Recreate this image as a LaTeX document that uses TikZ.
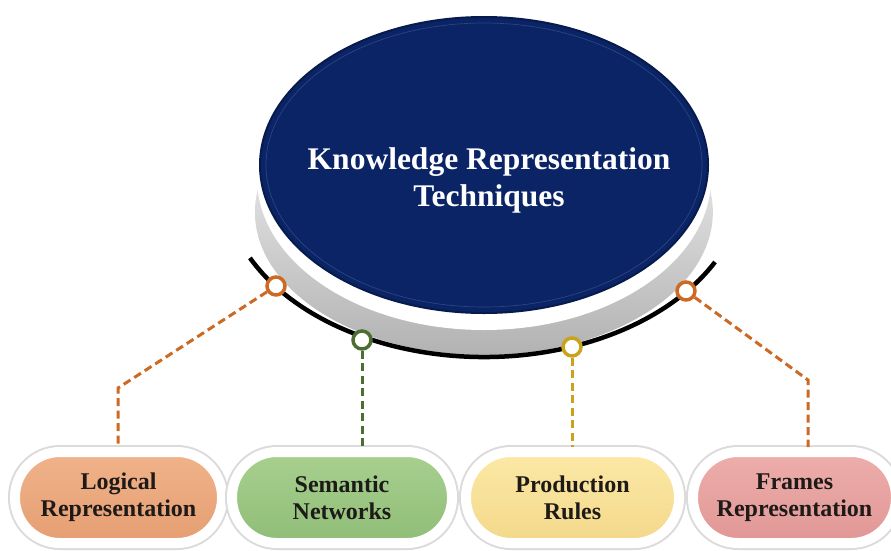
\documentclass[tikz,border=0pt]{standalone}
\usepackage{fontspec}
\setmainfont{Liberation Serif}
\usepackage{xcolor}
\usetikzlibrary{positioning,fadings}

\definecolor{discblue}{HTML}{0B2466}
\definecolor{discedge}{HTML}{071A4C}
\definecolor{discring}{HTML}{2C447F}
\definecolor{lineorange}{HTML}{CC6A24}
\definecolor{linegreen}{HTML}{4D6E33}
\definecolor{lineyellow}{HTML}{C9A21E}
\definecolor{boxtext}{HTML}{1E1A18}
\definecolor{logictop}{HTML}{F1B38A}
\definecolor{logicbot}{HTML}{E59E72}
\definecolor{semtop}{HTML}{A8D08F}
\definecolor{sembot}{HTML}{8FBD77}
\definecolor{prodtop}{HTML}{FCE9A6}
\definecolor{prodbot}{HTML}{F3D88A}
\definecolor{frametop}{HTML}{EDAEAB}
\definecolor{framebot}{HTML}{E09795}

\begin{document}
\begin{tikzpicture}[x=1pt,y=1pt]
	\tikzstyle{pill}
	  =[rounded corners=45pt, minimum height=91pt, draw=white, line width=10pt,
	  preaction={draw=black!14, line width=14pt}, align=center,
	  font=\fontsize{24}{27}\selectfont\bfseries, text=boxtext]
	\tikzstyle{ringdot}
	  =[circle, fill=white, line width=3.5pt, minimum size=18pt, inner sep=0pt]
	\tikzstyle{link}
	  =[line width=3pt, dash pattern=on 8pt off 4.5pt]

	\useasboundingbox (0,0) rectangle (891,-550);

	% disc with its shadow and rim
	\fill[black!30, path fading=north] (484,-212) ellipse [x radius=229pt, y radius=143pt];
	\fill[white] (484,-178) ellipse [x radius=227pt, y radius=152pt];
	\filldraw[fill=discblue, draw=discedge, line width=2pt]
	  (484,-165) ellipse [x radius=224pt, y radius=148pt];
	\draw[discring, line width=0.7pt] (484,-165) ellipse [x radius=218pt, y radius=142pt];
	\node[font=\fontsize{31.5}{37}\selectfont\bfseries, text=white, align=center] (title)
	  at (489,-180) {Knowledge Representation\\Techniques};

	% black arc below the disc
	\draw[line width=4.5pt] (484,-181.5) ++(205.8:260pt and 175.5pt)
	  arc[start angle=205.8, end angle=332.7, x radius=260pt, y radius=175.5pt];

	% technique boxes
	\node[pill, minimum width=207pt, top color=logictop, bottom color=logicbot] (logic)
	  at (118.5,-497.5) {Logical\\Representation};
	\node[pill, minimum width=220pt, top color=semtop, bottom color=sembot] (sem)
	  [right=0pt of logic] {Semantic\\Networks};
	\node[pill, minimum width=213pt, top color=prodtop, bottom color=prodbot] (prod)
	  [right=4pt of sem] {Production\\Rules};
	\node[pill, minimum width=203pt, top color=frametop, bottom color=framebot] (frame)
	  [right=4pt of prod] {Frames\\Representation};

	% markers on the arc
	\node[ringdot, draw=lineorange] (dotA) at (276,-286) {};
	\node[ringdot, draw=linegreen] (dotB) at (362,-340) {};
	\node[ringdot, draw=lineyellow] (dotC) at (572,-347) {};
	\node[ringdot, draw=lineorange] (dotD) at (686,-291) {};

	\coordinate (bendA) at (118,-388);
	\coordinate (bendD) at (808,-380);

	\draw[link, lineorange] (dotA) -- (bendA) -- (bendA |- logic.north);
	\draw[link, linegreen] (dotB) -- (dotB |- sem.north);
	\draw[link, lineyellow] (dotC) -- (dotC |- prod.north);
	\draw[link, lineorange] (dotD) -- (bendD) -- (bendD |- frame.north);
\end{tikzpicture}
\end{document}
